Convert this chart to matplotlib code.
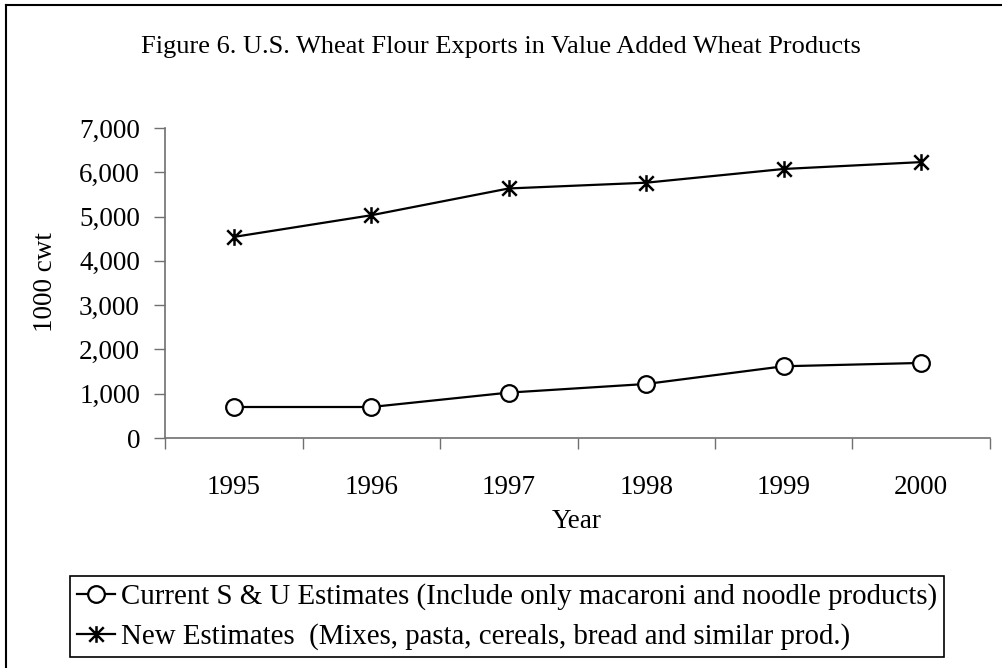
import matplotlib

matplotlib.use("Agg")
import matplotlib.pyplot as plt
from matplotlib.lines import Line2D
from matplotlib.path import Path
from matplotlib.ticker import FuncFormatter

years = ["1995", "1996", "1997", "1998", "1999", "2000"]
current_su = [700, 700, 1025, 1220, 1620, 1695]
new_estimates = [4540, 5030, 5635, 5765, 6075, 6230]

title = "Figure 6. U.S. Wheat Flour Exports in Value Added Wheat Products"
label_current = "Current S & U Estimates (Include only macaroni and noodle products)"
label_new = "New Estimates  (Mixes, pasta, cereals, bread and similar prod.)"

plt.rcParams["font.family"] = ["Liberation Serif", "DejaVu Serif"]

# Excel style star: an X with a vertical bar through it
star = Path(
    [(-1, -1), (1, 1), (-1, 1), (1, -1), (0, -1.15), (0, 1.15)],
    [Path.MOVETO, Path.LINETO, Path.MOVETO, Path.LINETO, Path.MOVETO, Path.LINETO],
)

W, H = 1003, 668
fig = plt.figure(figsize=(W / 100, H / 100), dpi=100)
ax = fig.add_axes([165 / W, 1 - 438 / H, (990 - 165) / W, (438 - 128) / H])

x = list(range(len(years)))
ax.plot(x, new_estimates, color="black", lw=1.6, marker=star, markersize=12,
        markeredgewidth=1.8, markerfacecolor="none", markeredgecolor="black", clip_on=False)
ax.plot(x, current_su, color="black", lw=1.6, marker="o", markersize=12,
        markeredgewidth=1.6, markerfacecolor="white", markeredgecolor="black", clip_on=False)

ax.set_xlim(-0.5, len(years) - 0.5)
ax.set_ylim(0, 7000)
ax.set_yticks(range(0, 7001, 1000))
ax.yaxis.set_major_formatter(FuncFormatter(lambda v, _: f"{int(v):,}"))

# category boundaries carry the tick marks, labels sit in between
ax.set_xticks([i - 0.5 for i in range(len(years) + 1)])
ax.set_xticklabels([])
ax.set_xticks(x, minor=True)
ax.set_xticklabels(years, minor=True)
ax.tick_params(axis="x", which="minor", length=0, pad=27, labelsize=19.5)
ax.tick_params(axis="x", which="major", length=8, width=1, color="#707070", direction="out")
ax.tick_params(axis="y", length=8, width=1, color="#707070", direction="out", labelsize=19.5, pad=10)

for side in ("top", "right"):
    ax.spines[side].set_visible(False)
for side in ("left", "bottom"):
    ax.spines[side].set_color("#707070")
    ax.spines[side].set_linewidth(1.2)

fig.text(501 / W, 1 - 47 / H, title, ha="center", va="center", fontsize=19)
fig.text(46 / W, 1 - 282 / H, "1000 cwt", ha="center", va="center", rotation=90, fontsize=19.5)
fig.text(577 / W, 1 - 521 / H, "Year", ha="center", va="center", fontsize=19.5)

handles = [
    Line2D([], [], color="black", lw=1.6, marker="o", markersize=12,
           markeredgewidth=1.6, markerfacecolor="white"),
    Line2D([], [], color="black", lw=1.6, marker=star, markersize=12,
           markeredgewidth=1.8, markerfacecolor="none"),
]
leg = fig.legend(handles, [label_current, label_new], loc="upper left",
                 bbox_to_anchor=(70 / W, 1 - 576 / H), fontsize=20.8, frameon=True,
                 fancybox=False, edgecolor="black", framealpha=1, handlelength=1.3,
                 handletextpad=0.2, borderpad=0.25, labelspacing=0.45, borderaxespad=0)
leg.get_frame().set_linewidth(1.2)

# outer chart frame: only the left and top edges are visible in the original
fig.add_artist(Line2D([6 / W, 6 / W], [0, 1 - 5 / H], color="black", lw=1.5))
fig.add_artist(Line2D([6 / W, 1], [1 - 5 / H, 1 - 5 / H], color="black", lw=1.5))

fig.savefig("out.png", dpi=100)
